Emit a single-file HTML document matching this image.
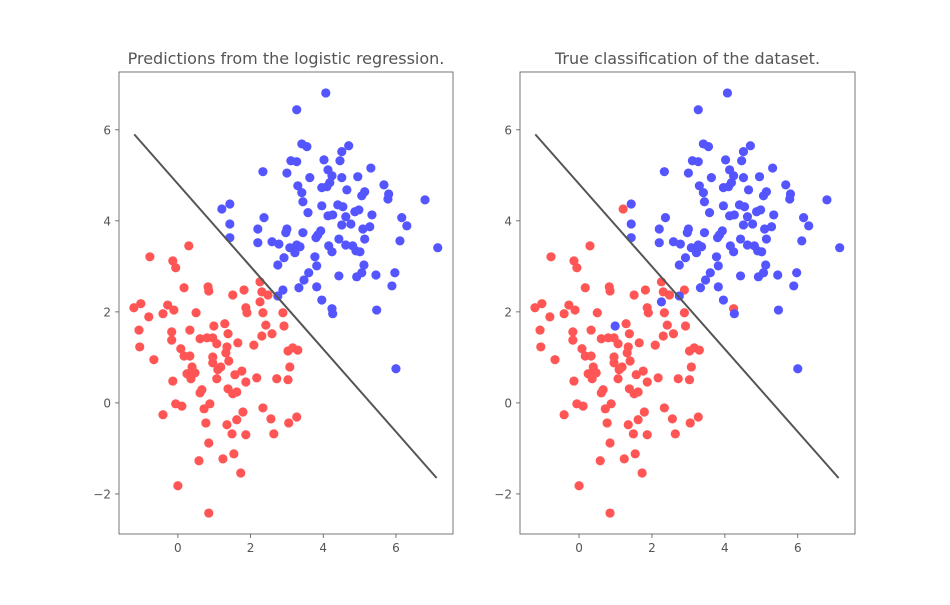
<!DOCTYPE html>
<html><head><meta charset="utf-8"><style>
body{margin:0;background:#fff;}
svg text{font-family:"DejaVu Sans","Liberation Sans",sans-serif;}
</style></head><body>
<svg id="chart" width="950" height="600" xmlns="http://www.w3.org/2000/svg"></svg>
<script>
// data: [x, y] for points, true class red / blue
const redX=[0.30,-0.77,-0.14,-0.06,0.17,0.83,0.85,1.51,1.82,2.26,2.31,2.48,-1.21,-1.02,-0.28,-0.11,-0.41,-0.80,0.50,1.87,1.90,2.34,2.89,-1.07,-0.17,-0.17,0.33,1.29,1.38,2.42,2.92,2.59,2.31,0.61,0.80,0.96,1.07,1.35,1.65,2.09,-1.05,-0.66,0.08,0.17,0.33,0.96,0.96,1.32,1.40,1.18,1.10,0.39,0.47,0.25,0.36,1.07,1.57,1.76,1.87,2.17,2.72,3.03,3.08,3.03,3.16,3.30,-0.14,1.38,1.51,1.62,0.61,0.66,-0.06,0.11,0.88,0.72,1.79,2.34,-0.41,1.62,1.35,2.56,3.05,3.27,0.77,1.49,1.87,2.64,0.85,0.58,1.24,1.54,1.73,0.00,0.85,1.21,2.89,4.24];
const redY=[3.45,3.21,3.12,2.97,2.53,2.55,2.46,2.37,2.48,2.66,2.44,2.37,2.09,2.18,2.15,2.04,1.96,1.89,1.98,2.09,1.98,1.98,1.98,1.60,1.56,1.38,1.60,1.74,1.52,1.71,1.69,1.52,1.47,1.41,1.43,1.43,1.30,1.23,1.32,1.27,1.23,0.95,1.19,1.03,1.03,1.01,0.88,1.10,0.92,0.79,0.73,0.79,0.66,0.64,0.53,0.53,0.62,0.70,0.46,0.55,0.53,0.51,0.79,1.14,1.21,1.16,0.48,0.31,0.20,0.24,0.22,0.29,-0.02,-0.07,-0.02,-0.13,-0.20,-0.11,-0.26,-0.37,-0.48,-0.35,-0.44,-0.31,-0.44,-0.68,-0.70,-0.68,-0.88,-1.27,-1.23,-1.12,-1.54,-1.82,-2.42,4.26,2.48,2.07];
const blueX=[4.07,3.27,3.41,3.55,4.70,4.51,3.11,3.27,4.02,4.46,2.34,3.00,4.13,4.24,3.63,4.51,4.95,5.31,3.30,3.96,4.18,4.10,4.65,5.06,5.14,5.67,5.80,5.78,3.41,3.44,6.80,1.43,3.96,4.40,4.54,3.58,4.13,4.26,4.62,4.87,4.98,5.34,6.16,6.30,2.37,1.43,4.51,4.76,5.09,5.28,3.93,2.20,3.00,2.97,3.44,5.14,3.85,3.80,4.43,1.43,2.20,2.59,2.78,6.11,7.15,3.08,3.27,3.36,3.22,4.15,4.24,4.62,4.81,4.90,5.01,3.77,2.92,2.75,3.82,5.12,5.97,3.60,3.47,4.43,4.92,5.06,5.45,5.89,3.33,3.82,2.75,3.96,4.26,5.47,6.00,2.26,0.99];
const blueY=[6.81,6.44,5.69,5.63,5.65,5.52,5.32,5.30,5.34,5.32,5.08,5.05,5.12,4.99,4.95,4.95,4.97,5.16,4.77,4.73,4.84,4.75,4.68,4.55,4.64,4.79,4.59,4.48,4.62,4.42,4.46,4.37,4.33,4.35,4.31,4.18,4.11,4.13,4.09,4.20,4.24,4.13,4.07,3.89,4.07,3.93,3.91,3.93,3.82,3.87,3.78,3.82,3.82,3.74,3.74,3.60,3.69,3.63,3.60,3.63,3.52,3.54,3.49,3.56,3.41,3.41,3.47,3.43,3.30,3.45,3.32,3.47,3.45,3.34,3.32,3.21,3.19,3.03,3.01,3.03,2.86,2.86,2.70,2.79,2.77,2.86,2.81,2.57,2.53,2.55,2.35,2.26,1.96,2.04,0.75,2.22,1.69];
const lineX=[-1.2,7.12];
const lineY=[5.9,-1.65];
const xTicks=[0,2,4,6];
const yTicks=[-2,0,2,4,6];
const titles=["Predictions from the logistic regression.","True classification of the dataset."];

const svg=document.getElementById('chart');
const NS='http://www.w3.org/2000/svg';
const panels=[{l:119,r:453},{l:520,r:855}];
const plotTop=72,plotBot=534,xmin=-1.62,xmax=7.57,ymin=-2.88,ymax=7.27;
const RED='#ff5555',BLUE='#5555ff';
function mk(tag,attrs,parent){const e=document.createElementNS(NS,tag);for(const k in attrs)e.setAttribute(k,attrs[k]);(parent||svg).appendChild(e);return e;}
function lineYAt(x){return lineY[0]+(x-lineX[0])*(lineY[1]-lineY[0])/(lineX[1]-lineX[0]);}

panels.forEach((p,pi)=>{
  const sx=v=>p.l+(v-xmin)/(xmax-xmin)*(p.r-p.l);
  const sy=v=>plotBot-(v-ymin)/(ymax-ymin)*(plotBot-plotTop);
  const g=mk('g',{});
  
  
  const t=mk('text',{x:(p.l+p.r)/2,y:64,'text-anchor':'middle','font-size':'16',fill:'#555'},g);
  t.textContent=titles[pi];
  
  
  const pts=mk('g',{},g);
  
  
  const all=[];
  redX.forEach((x,i)=>all.push([x,redY[i],0]));
  blueX.forEach((x,i)=>all.push([x,blueY[i],1]));
  all.forEach(d=>{
    let cls=d[2];
    if(pi===0)cls=d[1]>lineYAt(d[0])?1:0;
    const c=mk('circle',{cx:sx(d[0]),cy:sy(d[1]),r:4.6,fill:cls?BLUE:RED},pts);
    
    
  });
  const ln=mk('line',{x1:sx(lineX[0]),y1:sy(lineY[0]),x2:sx(lineX[1]),y2:sy(lineY[1]),stroke:'#555','stroke-width':2},g);
  
  
  const fr=mk('rect',{x:p.l,y:plotTop,width:p.r-p.l,height:plotBot-plotTop,fill:'none',stroke:'#555','stroke-width':0.8},g);
  
  
  xTicks.forEach(v=>{
    const x=sx(v);
    const tk=mk('line',{x1:x,y1:plotBot,x2:x,y2:plotBot+4,stroke:'#555','stroke-width':0.8},g);
    
    
    const tl=mk('text',{x:x,y:plotBot+18,'text-anchor':'middle','font-size':'12',fill:'#555'},g);
    tl.textContent=v<0?'\u2212'+(-v):String(v);
    
    
  });
  yTicks.forEach(v=>{
    const y=sy(v);
    const tk=mk('line',{x1:p.l-4,y1:y,x2:p.l,y2:y,stroke:'#555','stroke-width':0.8},g);
    
    
    const tl=mk('text',{x:p.l-8,y:y+4.5,'text-anchor':'end','font-size':'12',fill:'#555'},g);
    tl.textContent=v<0?'\u2212'+(-v):String(v);
    
    
  });
});
</script>
</body></html>
